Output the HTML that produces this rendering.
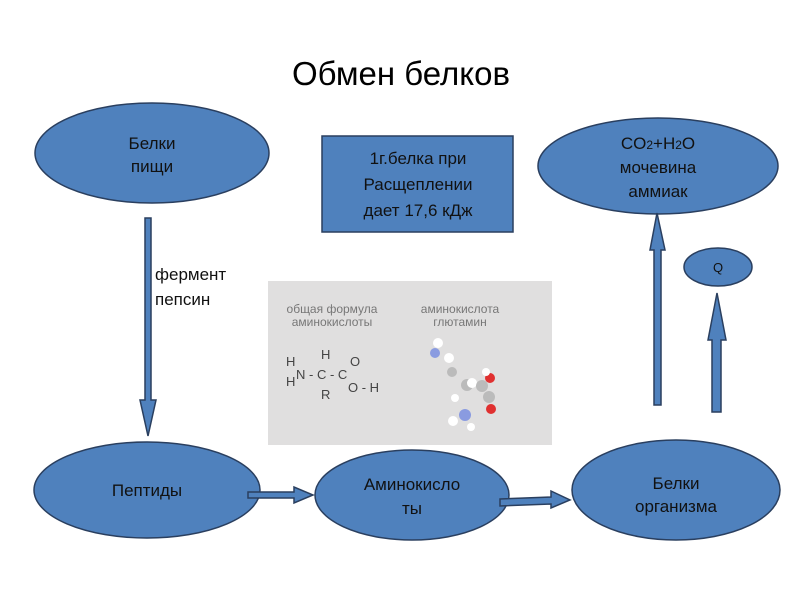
<!DOCTYPE html>
<html><head><meta charset="utf-8"><style>
body{margin:0;background:#fff;}
svg{display:block;font-family:"Liberation Sans",sans-serif;}
</style></head><body>
<svg width="800" height="600" viewBox="0 0 800 600">
<text x="401" y="85" font-size="33" text-anchor="middle" fill="#000">Обмен белков</text>
<g fill="#4f81bd" stroke="#2a3f5f" stroke-width="1.5">
<ellipse cx="152" cy="153" rx="117" ry="50"/>
<ellipse cx="147" cy="490" rx="113" ry="48"/>
<ellipse cx="412" cy="495" rx="97" ry="45"/>
<ellipse cx="676" cy="490" rx="104" ry="50"/>
<ellipse cx="658" cy="166" rx="120" ry="48"/>
<ellipse cx="718" cy="267" rx="34" ry="19"/>
<rect x="322" y="136" width="191" height="96"/>
<polygon points="145,218 151,218 151,400 156,400 148,436 140,400 145,400"/>
<polygon points="248,492 294,492 294,487 313,495 294,503 294,498 248,498"/>
<polygon points="500,499 551,497 551,491 570,500 551,508 551,504 500,506"/>
<polygon points="654,405 654,250 650,250 657,213 665,250 661,250 661,405"/>
<polygon points="712,412 712,340 708,340 717,293 726,340 721,340 721,412"/>
</g>
<g font-size="17" fill="#111" text-anchor="middle">
<text x="152" y="149">Белки</text><text x="152" y="172">пищи</text>
<text x="147" y="496">Пептиды</text>
<text x="412" y="490">Аминокисло</text><text x="412" y="514">ты</text>
<text x="676" y="489">Белки</text><text x="676" y="512">организма</text>
<text x="658" y="149">CO<tspan font-size="12">2</tspan>+H<tspan font-size="12">2</tspan>O</text>
<text x="658" y="173">мочевина</text><text x="658" y="197">аммиак</text>
<text x="718" y="272" font-size="13">Q</text>
<text x="418" y="164">1г.белка при</text>
<text x="418" y="190">Расщеплении</text>
<text x="418" y="216">дает 17,6 кДж</text>
</g>
<text x="155" y="280" font-size="17" fill="#111">фермент</text>
<text x="155" y="305" font-size="17" fill="#111">пепсин</text>
<rect x="268" y="281" width="284" height="164" fill="#e0dfdf"/>
<g font-size="12" fill="#777" text-anchor="middle">
<text x="332" y="313">общая формула</text><text x="332" y="326">аминокислоты</text>
<text x="460" y="313">аминокислота</text><text x="460" y="326">глютамин</text>
</g>
<g font-size="13" fill="#444">
<text x="286" y="366">H</text><text x="286" y="386">H</text>
<text x="296" y="379">N - C - C</text>
<text x="321" y="359">H</text><text x="321" y="399">R</text>
<text x="350" y="366">O</text><text x="348" y="392">O - H</text>
</g>
<g stroke="none">
<circle cx="438" cy="343" r="5" fill="#fff"/><circle cx="435" cy="353" r="5" fill="#8a9be0"/>
<circle cx="449" cy="358" r="5" fill="#fff"/><circle cx="452" cy="372" r="5" fill="#bbb"/>
<circle cx="467" cy="385" r="6" fill="#bbb"/><circle cx="472" cy="383" r="5" fill="#fff"/>
<circle cx="482" cy="386" r="6" fill="#bbb"/><circle cx="490" cy="378" r="5" fill="#e03030"/>
<circle cx="486" cy="372" r="4" fill="#fff"/><circle cx="489" cy="397" r="6" fill="#bbb"/>
<circle cx="491" cy="409" r="5" fill="#e03030"/><circle cx="465" cy="415" r="6" fill="#8a9be0"/>
<circle cx="453" cy="421" r="5" fill="#fff"/><circle cx="471" cy="427" r="4" fill="#fff"/>
<circle cx="455" cy="398" r="4" fill="#fff"/>
</g>
</svg>
</body></html>
